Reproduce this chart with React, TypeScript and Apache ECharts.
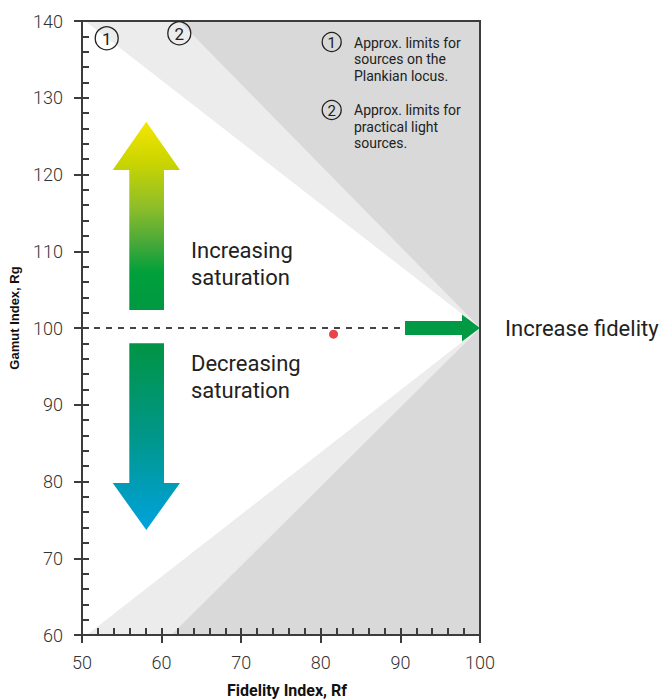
import React, { useEffect, useRef } from "react";
import * as echarts from "echarts";

// ---- data ----
const xTicks = [50, 60, 70, 80, 90, 100];
const yTicks = [60, 70, 80, 90, 100, 110, 120, 130, 140];
// shaded wedges, in data coords (Fidelity Rf, Gamut Rg)
const lightRegions = [
  [[100, 100], [50.4, 140], [62.2, 140]],
  [[100, 100], [50.6, 60], [61.2, 60]],
];
const darkRegions = [
  [[100, 100], [62.2, 140], [100, 140]],
  [[100, 100], [61.2, 60], [100, 60]],
];
const referenceLine = [[50, 100], [90.3, 100]];
const samplePoint = [[81.6, 99.2]];
const noteLines1 = ["Approx. limits for", "sources on the", "Plankian locus."];
const noteLines2 = ["Approx. limits for", "practical light", "sources."];

const AXIS_COLOR = "#3c3c3c";

export default function App() {
  const ref = useRef<HTMLDivElement>(null);
  useEffect(() => {
    if (!ref.current) return;
    const chart = echarts.init(ref.current, null, { renderer: "svg" });

    const regions = [
      ...lightRegions.map((p) => ({ pts: p, color: "#ececec" })),
      ...darkRegions.map((p) => ({ pts: p, color: "#d9d9d9" })),
    ];

    const circled = (cx: number, cy: number, r: number, label: string, fs: number) => ({
      type: "group",
      z: 20,
      children: [
        {
          type: "circle",
          z: 20,
          shape: { cx, cy, r },
          style: { fill: "none", stroke: "#222", lineWidth: 1.3 },
        },
        {
          type: "text",
          z: 20,
          x: cx,
          y: cy + 0.5,
          style: {
            text: label,
            fontSize: fs,
            fontFamily: "Roboto",
            fill: "#222",
            align: "center",
            verticalAlign: "middle",
          },
        },
      ],
    });

    const note = (x: number, y: number, lines: string[]) => ({
      type: "text",
      z: 20,
      x,
      y,
      style: {
        text: lines.join("\n"),
        fontSize: 14,
        lineHeight: 16.5,
        fontFamily: "Roboto",
        fill: "#222",
        align: "left",
        verticalAlign: "top",
      },
    });

    const option: any = {
      animation: false,
      grid: {
        left: 82,
        top: 21,
        width: 398,
        height: 614,
        show: true,
        borderColor: AXIS_COLOR,
        borderWidth: 2,
        backgroundColor: "transparent",
        z: 5,
      },
      xAxis: [
        {
          type: "value",
          min: xTicks[0],
          max: xTicks[xTicks.length - 1],
          interval: 10,
          position: "bottom",
          z: 5,
          axisLine: { show: true, lineStyle: { color: AXIS_COLOR, width: 2 } },
          axisTick: { show: true, inside: false, length: 8, lineStyle: { color: AXIS_COLOR, width: 2 } },
          axisLabel: {
            show: true,
            fontSize: 18,
            fontFamily: "Roboto",
            fontWeight: 300,
            color: "#333",
            margin: 18,
          },
          splitLine: { show: false },
        },
        {
          type: "value",
          min: xTicks[0],
          max: xTicks[xTicks.length - 1],
          interval: 2,
          position: "bottom",
          z: 5,
          axisLine: { show: false },
          axisTick: { show: true, inside: true, length: 7, lineStyle: { color: AXIS_COLOR, width: 2 } },
          axisLabel: { show: false },
          splitLine: { show: false },
        },
      ],
      yAxis: [
        {
          type: "value",
          min: yTicks[0],
          max: yTicks[yTicks.length - 1],
          interval: 10,
          position: "left",
          z: 5,
          axisLine: { show: true, lineStyle: { color: AXIS_COLOR, width: 2 } },
          axisTick: { show: true, inside: false, length: 8, lineStyle: { color: AXIS_COLOR, width: 2 } },
          axisLabel: {
            show: true,
            fontSize: 18,
            fontFamily: "Roboto",
            fontWeight: 300,
            color: "#333",
            margin: 19,
          },
          splitLine: { show: false },
        },
        {
          type: "value",
          min: yTicks[0],
          max: yTicks[yTicks.length - 1],
          interval: 2,
          position: "left",
          z: 5,
          axisLine: { show: false },
          axisTick: { show: true, inside: true, length: 7, lineStyle: { color: AXIS_COLOR, width: 2 } },
          axisLabel: { show: false },
          splitLine: { show: false },
        },
      ],
      series: [
        {
          type: "custom",
          z: 1,
          silent: true,
          data: regions.map((_, i) => [i]),
          renderItem: (params: any, api: any) => {
            const r = regions[params.dataIndex];
            return {
              type: "polygon",
              shape: { points: r.pts.map((p) => api.coord(p)) },
              style: { fill: r.color },
            };
          },
        },
        {
          type: "line",
          z: 3,
          data: referenceLine,
          symbol: "none",
          lineStyle: { color: "#444", width: 2, type: [6, 6] },
        },
        {
          type: "scatter",
          z: 4,
          data: samplePoint,
          symbolSize: 9,
          itemStyle: { color: "#e3141b" },
        },
      ],
      graphic: [
        // up arrow (increasing saturation)
        {
          type: "polygon",
          z: 10,
          shape: {
            points: [
              [146.3, 121.7], [180, 170], [164, 170], [164, 310],
              [129.3, 310], [129.3, 170], [112.7, 170],
            ],
          },
          style: {
            fill: new echarts.graphic.LinearGradient(0, 0, 0, 1, [
              { offset: 0, color: "#f5e600" },
              { offset: 0.22, color: "#c9d400" },
              { offset: 0.45, color: "#8fbe29" },
              { offset: 0.65, color: "#45a83a" },
              { offset: 0.8, color: "#00a03a" },
              { offset: 1, color: "#009844" },
            ]),
          },
        },
        // down arrow (decreasing saturation)
        {
          type: "polygon",
          z: 10,
          shape: {
            points: [
              [129.3, 343.3], [164, 343.3], [164, 483], [180, 483],
              [146.3, 530], [112.7, 483], [129.3, 483],
            ],
          },
          style: {
            fill: new echarts.graphic.LinearGradient(0, 0, 0, 1, [
              { offset: 0, color: "#009444" },
              { offset: 0.5, color: "#00978a" },
              { offset: 1, color: "#00a2de" },
            ]),
          },
        },
        // fidelity arrow
        {
          type: "polygon",
          z: 10,
          shape: {
            points: [
              [405, 321], [462, 321], [462, 314.5], [480, 328],
              [462, 341.5], [462, 335], [405, 335],
            ],
          },
          style: { fill: "#009a44" },
        },
        {
          type: "text",
          x: 191,
          y: 237,
          z: 10,
          style: {
            text: "Increasing\nsaturation",
            fontSize: 22,
            lineHeight: 27,
            fontFamily: "Roboto",
            fill: "#222",
            align: "left",
            verticalAlign: "top",
          },
        },
        {
          type: "text",
          x: 191,
          y: 349.5,
          z: 10,
          style: {
            text: "Decreasing\nsaturation",
            fontSize: 22,
            lineHeight: 27,
            fontFamily: "Roboto",
            fill: "#222",
            align: "left",
            verticalAlign: "top",
          },
        },
        {
          type: "text",
          x: 505,
          y: 328,
          z: 10,
          style: {
            text: "Increase fidelity",
            fontSize: 22,
            fontFamily: "Roboto",
            fill: "#222",
            align: "left",
            verticalAlign: "middle",
          },
        },
        circled(106.7, 38.3, 11.5, "1", 17),
        circled(179.3, 33.3, 11.5, "2", 17),
        circled(331.7, 42, 9.5, "1", 15),
        circled(331.7, 110, 9.5, "2", 15),
        note(354, 34.5, noteLines1),
        note(354, 102, noteLines2),
        {
          type: "text",
          z: 10,
          x: 14,
          y: 318,
          rotation: Math.PI / 2,
          style: {
            text: "Gamut Index, Rg",
            fontSize: 13,
            fontWeight: "bold",
            fontFamily: "Liberation Sans",
            fill: "#111",
            align: "center",
            verticalAlign: "middle",
          },
        },
        {
          type: "text",
          z: 10,
          x: 287,
          y: 690,
          style: {
            text: "Fidelity Index, Rf",
            fontSize: 16,
            fontWeight: "bold",
            fontFamily: "Roboto",
            fill: "#111",
            align: "center",
            verticalAlign: "middle",
          },
        },
      ],
    };

    chart.setOption(option);
    return () => chart.dispose();
  }, []);

  return <div ref={ref} style={{ width: 664, height: 699, position: "absolute", left: 0, top: 0 }} />;
}
